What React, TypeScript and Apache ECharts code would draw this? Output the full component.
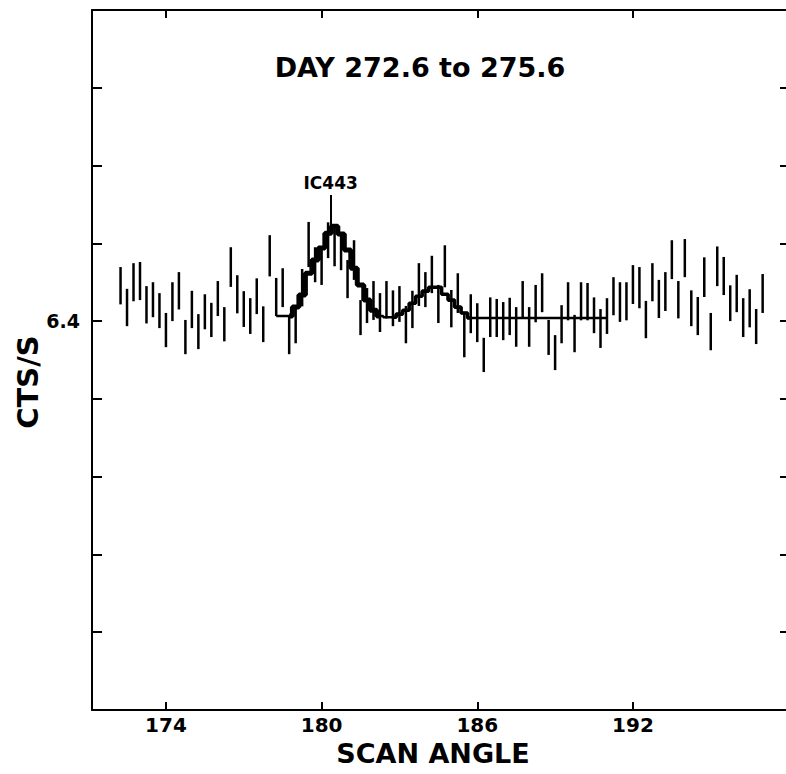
import React, { useEffect, useRef } from "react";
import * as echarts from "echarts";

// scan grid
const ANGLE_START = 172.25;
const ANGLE_STEP = 0.25;

// measured counts (centre of each error bar) and half-length of error bars
const COUNTS = [
  6.491, 6.435, 6.5, 6.503, 6.442, 6.455, 6.427, 6.377, 6.45, 6.478,
  6.359, 6.43, 6.373, 6.424, 6.403, 6.458, 6.392, 6.539, 6.469, 6.431,
  6.413, 6.464, 6.392, 6.568, 6.462, 6.486, 6.363, 6.392, 6.486, 6.597,
  6.545, 6.538, 6.608, 6.59, 6.579, 6.508, 6.557, 6.409, 6.44, 6.453,
  6.422, 6.455, 6.433, 6.444, 6.391, 6.43, 6.494, 6.481, 6.52, 6.444,
  6.541, 6.432, 6.472, 6.364, 6.419, 6.396, 6.313, 6.41, 6.408, 6.4,
  6.412, 6.385, 6.455, 6.385, 6.445, 6.473, 6.358, 6.319, 6.392, 6.451,
  6.368, 6.451, 6.45, 6.415, 6.381, 6.413, 6.464, 6.449, 6.451, 6.494,
  6.486, 6.404, 6.5, 6.457, 6.476, 6.558, 6.455, 6.562, 6.433, 6.413,
  6.513, 6.373, 6.541, 6.516, 6.446, 6.471, 6.409, 6.433, 6.386, 6.471,
];
const ERRORS = [
  0.048, 0.048, 0.049, 0.049, 0.048, 0.045, 0.045, 0.044, 0.05, 0.048,
  0.044, 0.048, 0.045, 0.045, 0.044, 0.045, 0.044, 0.051, 0.049, 0.046,
  0.046, 0.046, 0.046, 0.053, 0.049, 0.05, 0.048, 0.049, 0.048, 0.058,
  0.045, 0.045, 0.046, 0.049, 0.048, 0.049, 0.051, 0.045, 0.045, 0.05,
  0.05, 0.048, 0.046, 0.046, 0.048, 0.048, 0.055, 0.045, 0.048, 0.049,
  0.054, 0.048, 0.051, 0.057, 0.05, 0.05, 0.044, 0.051, 0.049, 0.049,
  0.048, 0.051, 0.048, 0.051, 0.048, 0.05, 0.045, 0.045, 0.049, 0.049,
  0.048, 0.049, 0.048, 0.046, 0.05, 0.046, 0.049, 0.051, 0.049, 0.05,
  0.053, 0.048, 0.049, 0.049, 0.05, 0.05, 0.048, 0.049, 0.046, 0.049,
  0.051, 0.048, 0.051, 0.049, 0.046, 0.048, 0.05, 0.049, 0.045, 0.05,
];

// fitted model (stepped), starting at scan index MODEL_FIRST
const MODEL_FIRST = 24;
const MODEL = [
  6.413, 6.413, 6.413, 6.436, 6.467, 6.523, 6.557, 6.588, 6.626, 6.644,
  6.624, 6.583, 6.536, 6.493, 6.454, 6.428, 6.413, 6.41, 6.41, 6.418,
  6.428, 6.446, 6.464, 6.477, 6.487, 6.487, 6.469, 6.454, 6.436, 6.421,
  6.408, 6.408, 6.408, 6.408, 6.408, 6.408, 6.408, 6.408, 6.408, 6.408,
  6.408, 6.408, 6.408, 6.408, 6.408, 6.408, 6.408, 6.408, 6.408, 6.408,
  6.408, 6.408,
];
// heavily drawn parts of the model: [first index, last index, width]
const HEAVY_PARTS = [
  [26, 40, 5],
  [42, 54, 3.6],
];

const X_TICKS = [174, 180, 186, 192];
const Y_LABELS = [6.4];
const SOURCE = { name: "IC443", angle: 180.35, from: 6.644, to: 6.724 };
const TITLE = "DAY 272.6 to 275.6";
const X_NAME = "SCAN ANGLE";
const Y_NAME = "CTS/S";

const FONT = "DejaVu Sans";

export default function App() {
  const ref = useRef<HTMLDivElement>(null);
  useEffect(() => {
    if (!ref.current) return;
    const chart = echarts.init(ref.current, undefined, { renderer: "svg" });

    const angle = (i: number) => ANGLE_START + ANGLE_STEP * i;
    const bars = COUNTS.map((c, i) => [angle(i), c - ERRORS[i], c + ERRORS[i]]);
    const model = MODEL.map((v, k) => [angle(MODEL_FIRST + k), v]);
    const heavy = HEAVY_PARTS.map(([a, b, w]) => ({
      type: "line",
      step: "middle",
      symbol: "none",
      silent: true,
      data: model.filter((_, k) => MODEL_FIRST + k >= a && MODEL_FIRST + k <= b),
      lineStyle: { color: "#000", width: w },
    }));

    const xBase = {
      type: "value" as const,
      min: 171.15,
      max: 197.9,
      splitLine: { show: false },
      axisLine: { show: true, lineStyle: { color: "#000", width: 2 } },
    };
    const yBase = {
      type: "value" as const,
      min: 5.4,
      max: 7.2,
      interval: 0.2,
      splitLine: { show: false },
    };

    chart.setOption({
      animation: false,
      backgroundColor: "#fff",
      grid: { left: 92, top: 10, width: 696, height: 700 },
      xAxis: [
        {
          ...xBase,
          position: "bottom",
          axisTick: {
            show: true,
            inside: true,
            length: 8,
            customValues: X_TICKS,
            lineStyle: { color: "#000", width: 2 },
          },
          axisLabel: {
            show: true,
            customValues: X_TICKS,
            color: "#000",
            fontFamily: FONT,
            fontWeight: "bold",
            fontSize: 20,
            margin: 5,
          },
        },
        {
          ...xBase,
          position: "top",
          axisTick: {
            show: true,
            inside: true,
            length: 8,
            customValues: X_TICKS,
            lineStyle: { color: "#000", width: 2 },
          },
          axisLabel: { show: false },
        },
      ],
      yAxis: [
        {
          ...yBase,
          position: "left",
          axisLine: { show: true, lineStyle: { color: "#000", width: 2 } },
          axisTick: { show: true, inside: true, length: 10, lineStyle: { color: "#000", width: 2 } },
          axisLabel: {
            show: true,
            customValues: Y_LABELS,
            formatter: (v: number) => v.toFixed(1),
            color: "#000",
            fontFamily: FONT,
            fontWeight: "bold",
            fontSize: 19,
            margin: 12,
          },
        },
        {
          ...yBase,
          position: "right",
          axisLine: { show: false },
          axisTick: { show: true, inside: true, length: 6, lineStyle: { color: "#000", width: 2 } },
          axisLabel: { show: false },
        },
      ],
      graphic: [
        {
          type: "text",
          x: 420,
          y: 67,
          style: {
            text: TITLE,
            fill: "#000",
            font: `bold 27px "${FONT}"`,
            textAlign: "center",
            textVerticalAlign: "middle",
          },
        },
        {
          type: "text",
          x: 433,
          y: 753,
          style: {
            text: X_NAME,
            fill: "#000",
            font: `bold 27px "${FONT}"`,
            textAlign: "center",
            textVerticalAlign: "middle",
          },
        },
        {
          type: "text",
          x: 28,
          y: 382,
          rotation: Math.PI / 2,
          style: {
            text: Y_NAME,
            fill: "#000",
            font: `bold 29px "${FONT}"`,
            textAlign: "center",
            textVerticalAlign: "middle",
          },
        },
      ],
      series: [
        {
          type: "custom",
          name: "counts",
          xAxisIndex: 0,
          yAxisIndex: 0,
          silent: true,
          data: bars,
          renderItem: (_params: any, api: any) => {
            const p1 = api.coord([api.value(0), api.value(1)]);
            const p2 = api.coord([api.value(0), api.value(2)]);
            return {
              type: "line",
              shape: { x1: p1[0], y1: p1[1], x2: p2[0], y2: p2[1] },
              style: { stroke: "#000", lineWidth: 2.5 },
            };
          },
        },
        {
          type: "line",
          name: "model",
          step: "middle",
          symbol: "none",
          silent: true,
          data: model,
          lineStyle: { color: "#000", width: 2.4 },
          markLine: {
            silent: true,
            symbol: ["none", "none"],
            lineStyle: { color: "#000", width: 2, type: "solid" },
            label: {
              show: true,
              position: "end",
              formatter: SOURCE.name,
              color: "#000",
              fontFamily: FONT,
              fontWeight: "bold",
              fontSize: 17,
              distance: 4,
            },
            data: [
              [
                { coord: [SOURCE.angle, SOURCE.from] },
                { coord: [SOURCE.angle, SOURCE.to] },
              ],
            ],
          },
        },
        ...heavy,
      ],
    });
    return () => chart.dispose();
  }, []);
  return (
    <div
      ref={ref}
      style={{ position: "fixed", left: 0, top: 0, width: 786, height: 774, background: "#fff" }}
    />
  );
}
